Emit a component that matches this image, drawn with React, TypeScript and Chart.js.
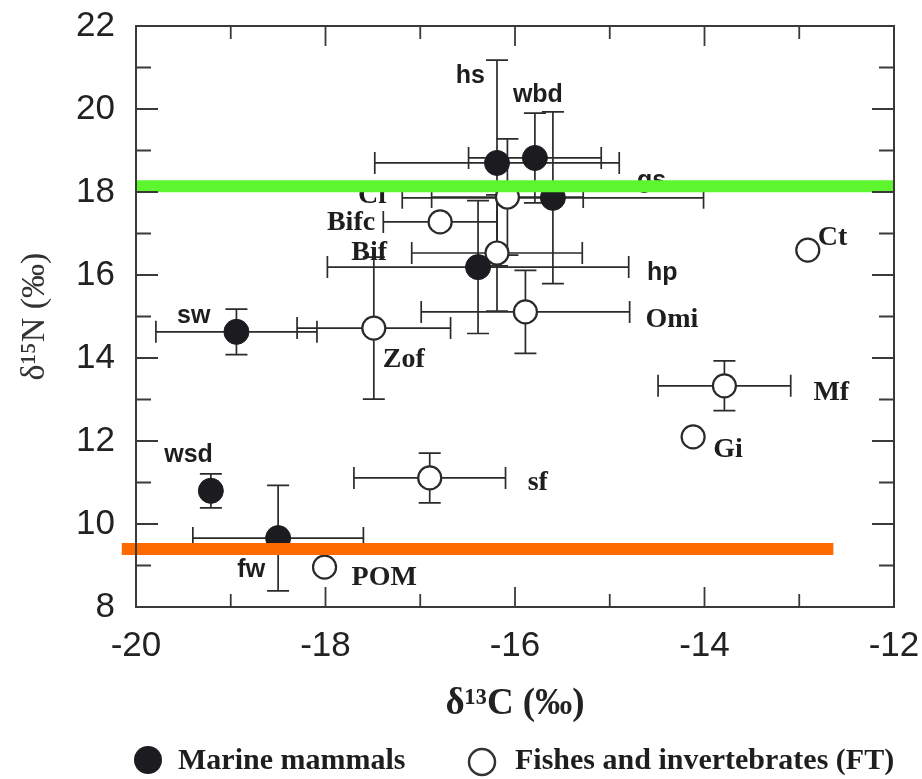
import React, { useEffect, useRef } from "react";
import { Chart, registerables } from "chart.js";
Chart.register(...registerables);

// ---- data (δ13C, δ15N, ‰) ----
const mammalLabels = ["hs", "wbd", "gs", "hp", "sw", "wsd", "fw"];
const mammalC = [-16.19, -15.79, -15.6, -16.39, -18.94, -19.21, -18.5];
const mammalN = [18.7, 18.82, 17.86, 16.19, 14.63, 10.8, 9.66];
const mammalCErr = [1.29, 0.7, 1.59, 1.59, 0.85, 0, 0.9];
const mammalNErr = [2.48, 1.08, 2.07, 1.6, 0.55, 0.41, 1.27];

const ftLabels = ["Cf", "Bifc", "Bif", "Zof", "Omi", "sf", "Mf", "Gi", "Ct", "POM"];
const ftC = [-16.08, -16.79, -16.19, -17.49, -15.89, -16.9, -13.79, -14.12, -12.91, -18.01];
const ftN = [17.88, 17.28, 16.53, 14.72, 15.11, 11.11, 13.33, 12.1, 16.6, 8.96];
const ftCErr = [0.8, 0.6, 0.9, 0.81, 1.1, 0.8, 0.7, 0, 0, 0];
const ftNErr = [1.4, 0, 1.4, 1.71, 1.0, 0.6, 0.6, 0, 0, 0];

const xTicks = [-20, -18, -16, -14, -12];
const yTicks = [8, 10, 12, 14, 16, 18, 20, 22];

const greenLineC = [-20, -12];
const greenLineN = [18.14, 18.14];
const orangeLineC = [-20.15, -12.64];
const orangeLineN = [9.4, 9.4];

const legendLabels = ["Marine mammals", "Fishes and invertebrates (FT)"];

// ---- layout / style (pixel offsets of the point labels) ----
const SANS = "'Liberation Sans', Arial, sans-serif";
const SERIF = "'Liberation Serif', 'Times New Roman', serif";
const labelPlacement: Record<string, [number, number, CanvasTextAlign]> = {
  hs: [-12, -80, "right"],
  wbd: [-22, -56, "left"],
  gs: [84, -10, "left"],
  hp: [169, 13, "left"],
  sw: [-26, -9, "right"],
  wsd: [2, -29, "right"],
  fw: [-13, 39, "right"],
  Cf: [-120, 6, "right"],
  Bifc: [-65, 8, "right"],
  Bif: [-110, 7, "right"],
  Zof: [9, 39, "left"],
  Omi: [120, 15, "left"],
  sf: [98, 12, "left"],
  Mf: [89, 14, "left"],
  Gi: [20, 20, "left"],
  Ct: [10, -5, "left"],
  POM: [27, 18, "left"],
};

const errorBarPlugin = {
  id: "errorBars",
  beforeDatasetsDraw(chart: any) {
    const { ctx } = chart;
    const x = chart.scales.x;
    const y = chart.scales.y;
    const groups = [
      [mammalC, mammalN, mammalCErr, mammalNErr],
      [ftC, ftN, ftCErr, ftNErr],
    ];
    const cap = 11;
    ctx.save();
    ctx.strokeStyle = "#2b2b2b";
    ctx.lineWidth = 1.7;
    for (const [cs, ns, ce, ne] of groups) {
      for (let i = 0; i < cs.length; i++) {
        const px = x.getPixelForValue(cs[i]);
        const py = y.getPixelForValue(ns[i]);
        if (ce[i] > 0) {
          const x1 = x.getPixelForValue(cs[i] - ce[i]);
          const x2 = x.getPixelForValue(cs[i] + ce[i]);
          ctx.beginPath();
          ctx.moveTo(x1, py);
          ctx.lineTo(x2, py);
          ctx.moveTo(x1, py - cap);
          ctx.lineTo(x1, py + cap);
          ctx.moveTo(x2, py - cap);
          ctx.lineTo(x2, py + cap);
          ctx.stroke();
        }
        if (ne[i] > 0) {
          const y1 = y.getPixelForValue(ns[i] - ne[i]);
          const y2 = y.getPixelForValue(ns[i] + ne[i]);
          ctx.beginPath();
          ctx.moveTo(px, y1);
          ctx.lineTo(px, y2);
          ctx.moveTo(px - cap, y1);
          ctx.lineTo(px + cap, y1);
          ctx.moveTo(px - cap, y2);
          ctx.lineTo(px + cap, y2);
          ctx.stroke();
        }
      }
    }
    // point labels
    ctx.fillStyle = "#1e1e1e";
    ctx.textBaseline = "alphabetic";
    const lg = [
      [mammalLabels, mammalC, mammalN, "bold 25px " + SANS],
      [ftLabels, ftC, ftN, "bold 28px " + SERIF],
    ] as any[];
    for (const [labs, cs, ns, font] of lg) {
      ctx.font = font;
      for (let i = 0; i < labs.length; i++) {
        const p = labelPlacement[labs[i]];
        const px = x.getPixelForValue(cs[i]);
        const py = y.getPixelForValue(ns[i]);
        ctx.textAlign = p[2];
        ctx.fillText(labs[i], px + p[0], py + p[1]);
      }
    }
    ctx.restore();
  },
};

const framePlugin = {
  id: "frame",
  afterDraw(chart: any) {
    const { ctx, chartArea: a } = chart;
    const x = chart.scales.x;
    const y = chart.scales.y;
    ctx.save();
    ctx.strokeStyle = "#3a3a3a";
    ctx.lineWidth = 2;
    ctx.strokeRect(a.left, a.top, a.right - a.left, a.bottom - a.top);
    ctx.lineWidth = 1.8;
    ctx.beginPath();
    for (let v = x.min; v <= x.max; v += 1) {
      const px = x.getPixelForValue(v);
      const len = Math.round(v) % 2 === 0 ? 20 : 13;
      ctx.moveTo(px, a.bottom);
      ctx.lineTo(px, a.bottom - len);
      ctx.moveTo(px, a.top);
      ctx.lineTo(px, a.top + len);
    }
    for (let v = y.min; v <= y.max; v += 1) {
      const py = y.getPixelForValue(v);
      const len = Math.round(v) % 2 === 0 ? 22 : 15;
      ctx.moveTo(a.left, py);
      ctx.lineTo(a.left + len, py);
      ctx.moveTo(a.right, py);
      ctx.lineTo(a.right - len, py);
    }
    ctx.stroke();

    // legend
    const ds = chart.data.datasets;
    ctx.font = "bold 30px " + SERIF;
    ctx.textAlign = "left";
    ctx.textBaseline = "alphabetic";
    ctx.beginPath();
    ctx.arc(148, 760, 14, 0, Math.PI * 2);
    ctx.fillStyle = ds[0].backgroundColor;
    ctx.fill();
    ctx.fillStyle = "#1e1e1e";
    ctx.fillText(ds[0].label, 178, 769);
    ctx.beginPath();
    ctx.arc(482, 762, 13, 0, Math.PI * 2);
    ctx.fillStyle = "#ffffff";
    ctx.fill();
    ctx.lineWidth = 2.5;
    ctx.strokeStyle = "#333";
    ctx.stroke();
    ctx.fillStyle = "#1e1e1e";
    ctx.fillText(ds[1].label, 515, 769);
    ctx.restore();
  },
};

export default function App() {
  const ref = useRef<HTMLCanvasElement | null>(null);
  useEffect(() => {
    document.body.style.margin = "0";
    document.body.style.overflow = "hidden";
    const canvas = ref.current;
    if (!canvas) return;
    const chart = new Chart(canvas, {
      type: "scatter",
      data: {
        datasets: [
          {
            label: legendLabels[0],
            data: mammalC.map((c, i) => ({ x: c, y: mammalN[i] })),
            backgroundColor: "#1c1c20",
            borderColor: "#1c1c20",
            pointRadius: 12.5,
            borderWidth: 1,
            order: 1,
          },
          {
            label: legendLabels[1],
            data: ftC.map((c, i) => ({ x: c, y: ftN[i] })),
            backgroundColor: "#ffffff",
            borderColor: "#2a2a2a",
            pointRadius: 11.5,
            borderWidth: 2.2,
            order: 1,
          },
          {
            label: "upper",
            type: "line",
            data: greenLineC.map((c, i) => ({ x: c, y: greenLineN[i] })),
            borderColor: "#5cf52e",
            borderWidth: 12,
            pointRadius: 0,
            borderCapStyle: "butt",
            clip: false,
            order: 0,
          } as any,
          {
            label: "lower",
            type: "line",
            data: orangeLineC.map((c, i) => ({ x: c, y: orangeLineN[i] })),
            borderColor: "#ff6a00",
            borderWidth: 12,
            pointRadius: 0,
            borderCapStyle: "butt",
            clip: false,
            order: 0,
          } as any,
        ],
      },
      options: {
        animation: false,
        responsive: false,
        devicePixelRatio: 1,
        events: [],
        layout: { padding: { top: 26, right: 28, bottom: 0, left: 0 } },
        plugins: { legend: { display: false }, tooltip: { enabled: false } },
        scales: {
          x: {
            type: "linear",
            min: -20,
            max: -12,
            afterBuildTicks: (s: any) => {
              s.ticks = xTicks.map((v) => ({ value: v }));
            },
            afterFit: (s: any) => {
              s.height = 172;
              s.paddingLeft = 0;
              s.paddingRight = 0;
            },
            grid: { display: false },
            border: { display: false },
            ticks: {
              font: { family: SANS, size: 35 },
              color: "#222",
              padding: 10,
              maxRotation: 0,
            },
            title: {
              display: true,
              text: "δ¹³C (‰)",
              font: { family: SERIF, size: 37, weight: "bold" },
              color: "#222",
              padding: { top: 0, bottom: 52 },
            },
          },
          y: {
            type: "linear",
            min: 8,
            max: 22,
            afterBuildTicks: (s: any) => {
              s.ticks = yTicks.map((v) => ({ value: v }));
            },
            afterFit: (s: any) => {
              s.width = 136;
              s.paddingTop = 0;
              s.paddingBottom = 0;
            },
            grid: { display: false },
            border: { display: false },
            ticks: {
              font: { family: SANS, size: 35 },
              color: "#222",
              padding: 13,
            },
            title: {
              display: true,
              text: "δ¹⁵N (‰)",
              font: { family: SERIF, size: 34 },
              color: "#333",
              padding: { top: 15, bottom: 0 },
            },
          },
        },
      },
      plugins: [errorBarPlugin, framePlugin],
    });
    return () => chart.destroy();
  }, []);
  return (
    <div style={{ width: 922, height: 779, background: "#fff" }}>
      <canvas ref={ref} width={922} height={779} />
    </div>
  );
}
